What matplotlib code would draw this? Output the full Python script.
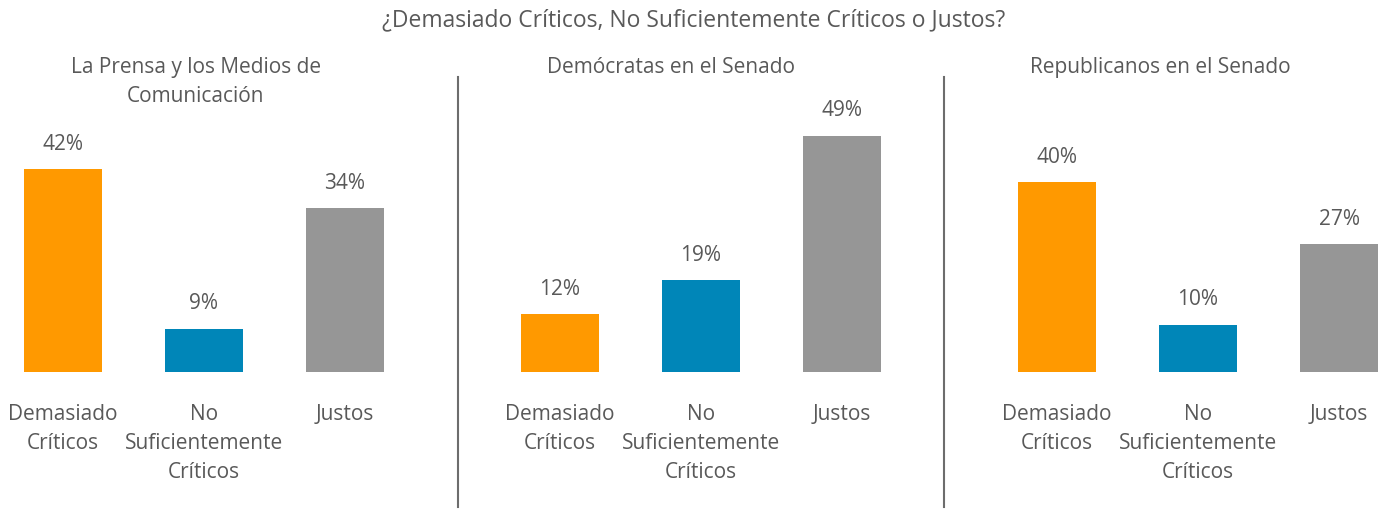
"""three panel bar chart: demasiado criticos / no suficientemente / justos"""

import matplotlib.pyplot as plt
from matplotlib.lines import Line2D

# == data ==
categories = ['Demasiado\nCríticos', 'No\nSuficientemente\nCríticos', 'Justos']
panel_titles = ['La Prensa y los Medios de\nComunicación',
                'Demócratas en el Senado',
                'Republicanos en el Senado']
prensa = [42, 9, 34]
democratas = [12, 19, 49]
republicanos = [40, 10, 27]
title = '¿Demasiado Críticos, No Suficientemente Críticos o Justos?'

colors = ['#FF9900', '#0086B8', '#969696']
text_color = '#595959'

plt.rcParams['font.family'] = ['Open Sans', 'DejaVu Sans']

W, H = 1387, 510
fig = plt.figure(figsize=(W / 100, H / 100), dpi=100)

# panel layout in pixels: first bar center, spacing, y scale per panel
first_center = [63, 560, 1057]
title_center = [196, 671, 1160]
spacing = 141
base_y = 373
top_y = 100
ymax = [56.5, 56.6, 57.6]
xlo, xhi = -0.42, 2.42

for i, vals in enumerate([prensa, democratas, republicanos]):
    left = first_center[i] + xlo * spacing
    width = (xhi - xlo) * spacing
    ax = fig.add_axes([left / W, 1 - base_y / H, width / W, (base_y - top_y) / H])
    ax.bar(range(3), vals, width=0.56, color=colors)
    ax.set_xlim(xlo, xhi)
    ax.set_ylim(0, ymax[i])
    ax.axis('off')
    for x, v in enumerate(vals):
        ax.annotate(f'{v}%', (x, v), xytext=(0, 18.5), textcoords='offset points',
                    ha='center', va='center', fontsize=15, color=text_color)
    for x, c in enumerate(categories):
        ax.annotate(c, (x, 0), xytext=(0, -22.5), textcoords='offset points',
                    ha='center', va='top', fontsize=15, color=text_color,
                    linespacing=1.5)
    # panel title
    fig.text(title_center[i] / W, 1 - 57 / H, panel_titles[i], ha='center',
             va='top', fontsize=15, color=text_color, linespacing=1.5)

fig.text(694 / W, 1 - 20 / H, title, ha='center', va='center',
         fontsize=16.5, color=text_color)

# divider lines
for xd in [458, 944]:
    fig.add_artist(Line2D([xd / W, xd / W], [1 - 78 / H, 1 - 508 / H],
                          transform=fig.transFigure, color='#6d6d6d', lw=1.5))

fig.savefig('out.png', dpi=100, facecolor='white')
